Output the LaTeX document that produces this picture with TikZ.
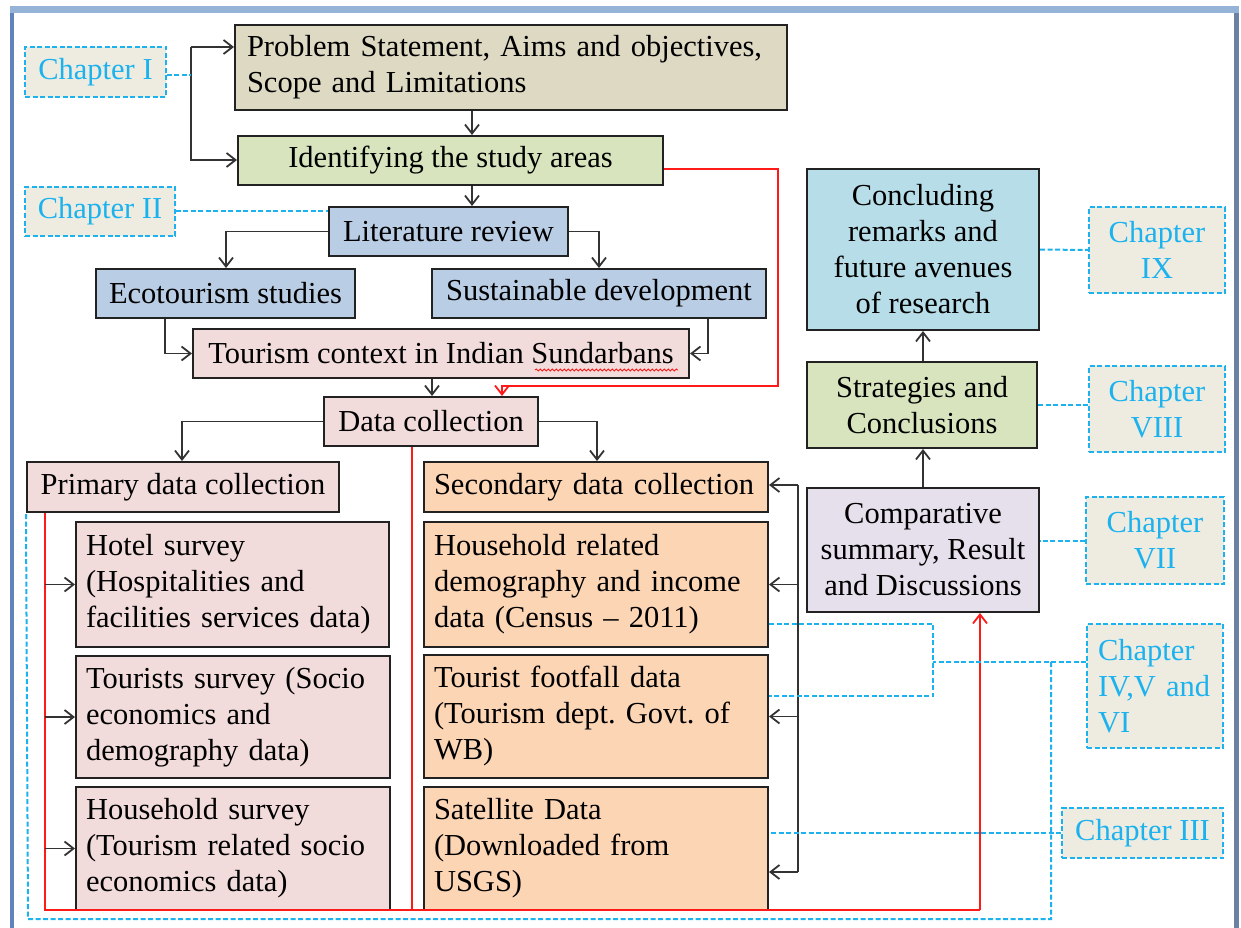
\documentclass[tikz,border=0pt]{standalone}
\usepackage{fontspec}
\setmainfont{Liberation Serif}
\usetikzlibrary{arrows.meta,decorations.pathmorphing}
\definecolor{frameTop}{HTML}{95B3D7}
\definecolor{frameLeft}{HTML}{5F83BA}
\definecolor{frameRight}{HTML}{6B82A3}
\definecolor{boxline}{HTML}{222222}
\definecolor{linkline}{HTML}{333333}
\definecolor{cProb}{HTML}{DDD9C3}
\definecolor{cGreen}{HTML}{D7E4BD}
\definecolor{cBlue}{HTML}{B9CDE5}
\definecolor{cPink}{HTML}{F2DCDB}
\definecolor{cOrange}{HTML}{FCD5B5}
\definecolor{cTeal}{HTML}{B7DDE8}
\definecolor{cLav}{HTML}{E6E0EC}
\definecolor{cChap}{HTML}{EEECE1}
\definecolor{cCyan}{HTML}{1CB2EE}
\definecolor{cRed}{HTML}{FF1A1A}
\begin{document}
\frenchspacing
\begin{tikzpicture}[x=1pt,y=-1pt,
  box/.style={draw=boxline,line width=2pt,inner sep=0pt,
    font=\fontsize{30.5}{36}\selectfont,text=black},
  lbox/.style={box,align=left,execute at begin node={\hyphenpenalty=10000\frenchspacing}},
  cbox/.style={box,align=center},
  chap/.style={draw=cCyan,dash pattern=on 5pt off 2.5pt,line width=1.8pt,
    fill=cChap,inner sep=0pt,font=\fontsize{30.5}{36}\selectfont,text=cCyan},
  arr/.style={draw=linkline,line width=1.8pt,-{Straight Barb[length=9pt,width=14pt]}},
  link/.style={draw=linkline,line width=1.8pt},
  redarr/.style={draw=cRed,line width=1.8pt,-{Straight Barb[length=9pt,width=14pt]}},
  redlink/.style={draw=cRed,line width=1.8pt},
  cy/.style={draw=cCyan,line width=2pt,dash pattern=on 5pt off 2.5pt}
]
\useasboundingbox (0,0) rectangle (1241,928);

% page frame
\fill[frameTop] (10,6) rectangle (1239,940);
\fill[white] (14,13) rectangle (1234,940);
\fill[frameLeft] (10,13) rectangle (14,928);
\fill[frameRight] (1234,13) rectangle (1239,928);

% chapter labels
\node[chap,minimum width=141,minimum height=50] (ch1) at (95.5,72) {Chapter I};
\node[chap,minimum width=150,minimum height=49] (ch2) at (100,211.5) {Chapter II};
\node[chap,minimum width=136,minimum height=86,align=center] (ch9) at (1157,250) {Chapter\\IX};
\node[chap,minimum width=136,minimum height=86,align=center] (ch8) at (1157,409) {Chapter\\VIII};
\node[chap,minimum width=138,minimum height=87,align=center] (ch7) at (1155,540.5) {Chapter\\VII};
\node[chap,minimum width=136,minimum height=124,text width=114,align=left] (ch46) at (1155,686) {Chapter\\IV,V and\\VI};
\node[chap,minimum width=161,minimum height=50] (ch3) at (1142.5,833) {Chapter III};

% main flow
\node[lbox,fill=cProb,minimum width=552,minimum height=85,text width=528] (prob) at (511,67.5)
  {Problem Statement, Aims and objectives,\\Scope and Limitations};
\node[cbox,fill=cGreen,minimum width=425,minimum height=49] (ident) at (450.5,160.5) {Identifying the study areas};
\node[cbox,fill=cBlue,minimum width=239,minimum height=49] (lit) at (448.5,231.5) {Literature review};
\node[cbox,fill=cBlue,minimum width=259,minimum height=49] (eco) at (225.5,293.5) {Ecotourism studies};
\node[cbox,fill=cBlue,minimum width=334,minimum height=49] (sus) at (599,293.5) {Sustainable development};
\node[cbox,fill=cPink,minimum width=496,minimum height=49] (tc) at (441,353.5) {Tourism context in Indian Sundarbans};
\node[cbox,fill=cPink,minimum width=214,minimum height=49] (dc) at (431,421.5) {Data collection};

% primary data
\node[cbox,fill=cPink,minimum width=312,minimum height=50] (prim) at (183,487) {Primary data collection};
\node[lbox,fill=cPink,minimum width=313,minimum height=125,text width=293] (hotel) at (232.5,584.5)
  {Hotel survey\\(Hospitalities and\\facilities services data)};
\node[lbox,fill=cPink,minimum width=314,minimum height=122,text width=294] (tour) at (233,717)
  {Tourists survey (Socio\\economics and\\demography data)};
\node[lbox,fill=cPink,minimum width=314,minimum height=123,text width=294] (hhs) at (233,848.5)
  {Household survey\\(Tourism related socio\\economics data)};

% secondary data
\node[lbox,fill=cOrange,minimum width=344,minimum height=50,text width=324] (sec) at (596,487) {Secondary data collection};
\node[lbox,fill=cOrange,minimum width=344,minimum height=125,text width=324] (hhr) at (596,584.5)
  {Household related\\demography and income\\data (Census -- 2011)};
\node[lbox,fill=cOrange,minimum width=344,minimum height=123,text width=324] (foot) at (596,716.5)
  {Tourist footfall data\\(Tourism dept. Govt. of\\WB)};
\node[lbox,fill=cOrange,minimum width=344,minimum height=123,text width=324] (sat) at (596,848.5)
  {Satellite Data\\(Downloaded from\\USGS)};

% synthesis column
\node[cbox,fill=cTeal,minimum width=232,minimum height=161] (conc) at (923,249.5)
  {Concluding\\remarks and\\future avenues\\of research};
\node[cbox,fill=cGreen,minimum width=230,minimum height=86] (strat) at (922,405)
  {Strategies and\\Conclusions};
\node[cbox,fill=cLav,minimum width=232,minimum height=124] (comp) at (923,550)
  {Comparative\\summary, Result\\and Discussions};

% spell-check mark under "Sundarbans"
\coordinate (w1) at (535,370);
\coordinate (w2) at (678,370);
\draw[cRed,line width=0.9pt,decorate,decoration={snake,amplitude=1pt,segment length=4pt}] (w1) -- (w2);

% routing points
\coordinate (b1) at (191,47);
\coordinate (b2) at (191,160);
\coordinate (yC1) at (0,75);
\coordinate (yC2) at (0,211);
\coordinate (xPI) at (472,0);
\coordinate (xEco) at (226,0);
\coordinate (xSus) at (599,0);
\coordinate (xEcoD) at (165,0);
\coordinate (xSusD) at (708,0);
\coordinate (xTC) at (432,0);
\coordinate (xPrim) at (182,0);
\coordinate (xSec) at (597,0);
\coordinate (xR) at (923,0);
\coordinate (yR) at (0,169);
\coordinate (r1) at (778,386);
\coordinate (xRin) at (502,0);
\coordinate (xRL) at (45,0);
\coordinate (xRM) at (412,0);
\coordinate (rb1) at (45,910);
\coordinate (rb2) at (980,910);
\coordinate (sb1) at (798,485);
\coordinate (sb2) at (798,872);
\coordinate (cb1) at (933,624);
\coordinate (cb2) at (933,696);
\coordinate (cb3) at (933,662);
\coordinate (cv1) at (1051,662);
\coordinate (cv2) at (1051,919);
\coordinate (cv3) at (28,919);

% chapter I bracket
\draw[arr] (b1) -- (prob.west |- b1);
\draw[arr] (b1) -- (b2) -- (ident.west |- b2);

% main vertical flow
\draw[arr] (prob.south -| xPI) -- (ident.north -| xPI);
\draw[arr] (ident.south -| xPI) -- (lit.north -| xPI);
\draw[arr] (lit.west) -| (eco.north -| xEco);
\draw[arr] (lit.east) -| (sus.north -| xSus);
\draw[arr] (eco.south -| xEcoD) |- (tc.west);
\draw[arr] (sus.south -| xSusD) |- (tc.east);
\draw[arr] (tc.south -| xTC) -- (dc.north -| xTC);
\draw[arr] (dc.west) -| (prim.north -| xPrim);
\draw[arr] (dc.east) -| (sec.north -| xSec);

% study areas feed straight into data collection
\draw[redarr] (ident.east |- yR) -| (r1) -| (dc.north -| xRin);

% primary survey branches
\draw[redlink] (prim.south -| xRL) -- (rb1) -- (rb2);
\draw[redlink] (dc.south -| xRM) -- (rb1 -| xRM);
\draw[redarr] (rb2) -- (comp.south -| rb2);
\draw[arr] (hotel.west -| xRL) -- (hotel.west);
\draw[arr] (tour.west -| xRL) -- (tour.west);
\draw[arr] (hhs.west -| xRL) -- (hhs.west);

% secondary data branches
\draw[link] (sb1) -- (sb2);
\draw[arr] (sb1) -- (sec.east |- sb1);
\draw[arr] (hhr.east -| sb1) -- (hhr.east);
\draw[arr] (foot.east -| sb1) -- (foot.east);
\draw[arr] (sb2) -- (sat.east |- sb2);

% synthesis column
\draw[arr] (comp.north -| xR) -- (strat.south -| xR);
\draw[arr] (strat.north -| xR) -- (conc.south -| xR);

% chapter links
\draw[cy] (ch1.east |- yC1) -- (b1 |- yC1);
\draw[cy] (ch2.east |- yC2) -- (lit.west |- yC2);
\draw[cy] (conc.east) -- (ch9.west);
\draw[cy] (strat.east) -- (ch8.west |- strat.east);
\draw[cy] (ch7.west) -- (comp.east |- ch7.west);
\draw[cy] (ch46.west |- cb3) -- (cb3);
\draw[cy] (hhr.east |- cb1) -- (cb1) -- (cb2) -- (foot.east |- cb2);
\draw[cy] (cv1) -- (cv2) -- (cv3) -- (prim.south west);
\draw[cy] (ch3.west) -- (sat.east |- ch3.west);
\end{tikzpicture}
\end{document}
